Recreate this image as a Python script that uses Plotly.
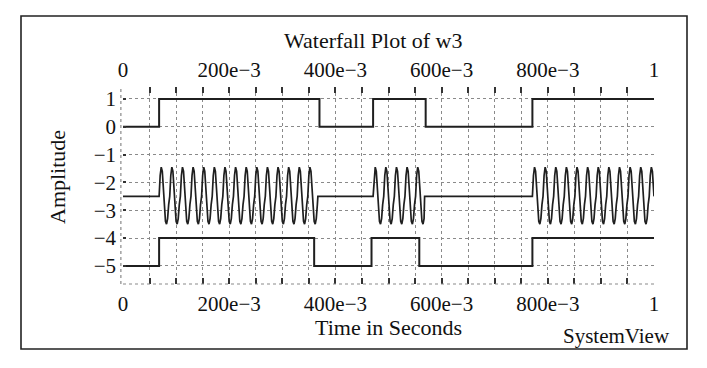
import plotly.graph_objects as go

# ---- data ----
top_edges = [0.0, 0.068, 0.370, 0.471, 0.570, 0.771, 1.0]
top_bits = [0, 1, 0, 1, 0, 1]
bottom_edges = [0.0, 0.068, 0.360, 0.468, 0.558, 0.771, 1.0]
bottom_bits = [0, 1, 0, 1, 0, 1]
mid_edges = [0.0, 0.068, 0.367, 0.471, 0.568, 0.771, 1.0]
mid_bits = [0, 1, 0, 1, 0, 1]
top_offset = 0.0
mid_offset = -2.5
bottom_offset = -5.0
# one carrier cycle (0.02 s) of the middle trace
cycle_shape = [0.0, 0.75, 1.05, 0.9, 0.3, -0.4, -0.9, -1.0, -0.8, -0.3]
cycle_period = 0.02

x_tickvals = [0, 0.2, 0.4, 0.6, 0.8, 1.0]
x_ticktext = ["0", "200e\u22123", "400e\u22123", "600e\u22123", "800e\u22123", "1"]
y_tickvals = [1, 0, -1, -2, -3, -4, -5]
y_ticktext = ["1", "0", "\u22121", "\u22122", "\u22123", "\u22124", "\u22125"]
y_range = [-5.65, 1.43]

title_text = "Waterfall Plot of w3"
x_title = "Time in Seconds"
y_title = "Amplitude"
brand = "SystemView"


def square(edges, bits, off):
    xs, ys = [], []
    for i, b in enumerate(bits):
        xs += [edges[i], edges[i + 1]]
        ys += [b + off, b + off]
    return xs, ys


def burst(edges, bits, off):
    xs, ys = [], []
    n = len(cycle_shape)
    dt = cycle_period / n
    for i, b in enumerate(bits):
        a, e = edges[i], edges[i + 1]
        if b == 0:
            xs += [a, e]
            ys += [off, off]
        else:
            k = 0
            t = a
            while t < e - 1e-9:
                xs.append(t)
                ys.append(off + cycle_shape[k % n])
                k += 1
                t = a + k * dt
            xs.append(e)
            ys.append(off)
    return xs, ys


line_col = "#1f1f1f"
fig = go.Figure()
tx, ty = square(top_edges, top_bits, top_offset)
fig.add_trace(go.Scatter(x=tx, y=ty, mode="lines", line=dict(color=line_col, width=2)))
mx, my = burst(mid_edges, mid_bits, mid_offset)
fig.add_trace(go.Scatter(x=mx, y=my, mode="lines", line=dict(color=line_col, width=1.7)))
bx, by = square(bottom_edges, bottom_bits, bottom_offset)
fig.add_trace(go.Scatter(x=bx, y=by, mode="lines", line=dict(color=line_col, width=2)))
# invisible trace to anchor top axis
fig.add_trace(go.Scatter(x=[0, 1], y=[0, 0], xaxis="x2", mode="lines",
                         line=dict(width=0), hoverinfo="skip", opacity=0))

W, H = 707, 368
L, R, T, B = 123, 53, 87, 84
pw, ph = W - L - R, H - T - B


def px(x):
    return (x - L) / pw


def py(y):
    return (H - B - y) / ph


grid_col = "#8a8a8a"
font_family = "Liberation Serif, Times New Roman, serif"
tick_font = dict(size=21, family=font_family, color="#111")
axis_common = dict(
    range=[0, 1], tickvals=x_tickvals, ticktext=x_ticktext,
    ticks="inside", ticklen=6, tickwidth=1.5, tickcolor="#333",
    zeroline=False, showline=False,
    tickfont=tick_font,
    ticklabelstandoff=5,
)
fig.update_layout(
    width=W, height=H,
    margin=dict(l=L, r=R, t=T, b=B),
    paper_bgcolor="white", plot_bgcolor="white",
    showlegend=False,
    font=dict(family=font_family, size=20, color="#111"),
    xaxis=dict(**axis_common, side="bottom",
               showgrid=True, gridcolor=grid_col, gridwidth=1, griddash="dot",
               minor=dict(dtick=0.05, tick0=0, ticks="inside", ticklen=6, tickwidth=1.5,
                          tickcolor="#333", showgrid=True, gridcolor=grid_col,
                          gridwidth=1, griddash="dot")),
    xaxis2=dict(**axis_common, side="top", overlaying="x", matches="x",
                showgrid=False,
                minor=dict(dtick=0.05, tick0=0, ticks="inside", ticklen=6, tickwidth=1.5,
                           tickcolor="#333", showgrid=False)),
    yaxis=dict(range=y_range, tickvals=y_tickvals, ticktext=y_ticktext,
               ticks="inside", ticklen=3, tickwidth=2, tickcolor="#333",
               showgrid=True, gridcolor=grid_col, gridwidth=1, griddash="dot",
               zeroline=False, showline=False,
               tickfont=tick_font,
               ticklabelstandoff=6),
)

# plot-area borders (dotted) and outer frame
fig.add_shape(type="line", xref="paper", yref="paper", x0=0, x1=1, y0=0, y1=0,
              line=dict(color=grid_col, width=1.2, dash="dot"))
fig.add_shape(type="line", xref="paper", yref="paper", x0=-0.004, x1=-0.004, y0=0, y1=1,
              line=dict(color=grid_col, width=1.2, dash="dot"))
fig.add_shape(type="rect", xref="paper", yref="paper",
              x0=px(21), x1=px(687), y0=py(349), y1=py(16),
              line=dict(color="#222", width=1.6))

ann_font = dict(size=22, family=font_family, color="#111")
fig.add_annotation(text=title_text, xref="paper", yref="paper", x=px(373), y=py(40),
                   xanchor="center", yanchor="middle", showarrow=False, font=ann_font)
fig.add_annotation(text=x_title, xref="paper", yref="paper", x=px(388), y=py(327),
                   xanchor="center", yanchor="middle", showarrow=False, font=ann_font)
fig.add_annotation(text=brand, xref="paper", yref="paper", x=px(672), y=py(336),
                   xanchor="right", yanchor="middle", showarrow=False,
                   font=dict(size=21, family=font_family, color="#111"))
fig.add_annotation(text=y_title, xref="paper", yref="paper", x=px(57), y=py(177),
                   xanchor="center", yanchor="middle",
                   textangle=-90, showarrow=False, font=ann_font)

fig.write_html("out.html", config={"displayModeBar": False},
               post_script="document.body.style.margin='0';document.body.style.overflow='hidden';")
